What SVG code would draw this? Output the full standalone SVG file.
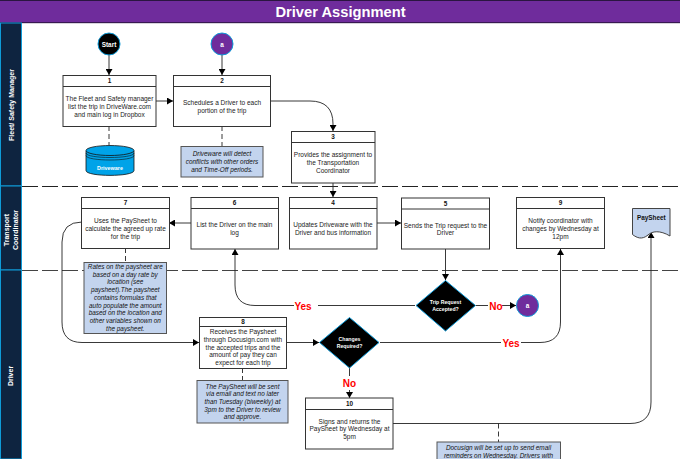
<svg xmlns="http://www.w3.org/2000/svg" width="680" height="459" viewBox="0 0 680 459">
<defs>
<marker id="arr" markerUnits="userSpaceOnUse" markerWidth="7" markerHeight="7" refX="6" refY="3.5" orient="auto"><path d="M0 0L6 3.5L0 7Z" fill="#000"/></marker>
</defs>
<style>
text{font-family:"Liberation Sans",Arial,sans-serif}
.box{fill:#fff;stroke:#333;stroke-width:1}
.t{font-size:6.5px;fill:#222;text-anchor:middle}
.n{font-size:6.4px;font-weight:bold;fill:#111;text-anchor:middle}
.note{fill:#c3d4ee;stroke:#555;stroke-width:1}
.nt{font-size:6.4px;font-style:italic;fill:#111;text-anchor:middle}
.lane{fill:#0e2440;stroke:#0e9bd8;stroke-width:1}
.lt{font-size:7px;font-weight:bold;fill:#fff;text-anchor:middle}
.c{fill:none;stroke:#222;stroke-width:.9}
.ca{fill:none;stroke:#222;stroke-width:.9;marker-end:url(#arr)}
.d{fill:none;stroke:#222;stroke-width:.9;stroke-dasharray:5 3}
.sw{fill:none;stroke-width:1;stroke-dasharray:16 4}
.yn{font-size:10px;font-weight:bold;fill:#f00;text-anchor:middle}
.dia{fill:#000;stroke:#0e9bd8;stroke-width:1}
.dt{font-size:5.2px;font-weight:bold;fill:#fff;text-anchor:middle}
</style>
<rect width="680" height="459" fill="#fff"/>
<g id="title"><rect x="0" y="0" width="680" height="23" fill="#6f2c9c"/><path d="M0 .5H680M0 22.700H680" stroke="#2a1540" stroke-width="1"/><text x="340.500" y="16.500" font-size="14.700" font-weight="bold" fill="#fff" text-anchor="middle">Driver Assignment</text></g>
<g id="lanes">
<rect class="lane" x=".5" y="23" width="21" height="163"/>
<rect class="lane" x=".5" y="186" width="21" height="84"/>
<rect class="lane" x=".5" y="270" width="21" height="189"/>
<text class="lt" transform="translate(13.500 105) rotate(-90)">Fleet/ Safety Manager</text>
<text class="lt" transform="translate(9 230) rotate(-90)">Transport</text>
<text class="lt" transform="translate(17.500 230) rotate(-90)">Coordinator</text>
<text class="lt" transform="translate(13 376) rotate(-90)">Driver</text>
<path class="sw" stroke="#222" d="M22 186.500H680"/>
<path class="sw" stroke="#444" d="M22 270.500H680"/>
</g>
<g id="connectors">
<path class="ca" d="M109 55V75"/>
<path class="ca" d="M222 55V75"/>
<path class="ca" d="M156 101H173"/>
<path class="ca" d="M270 101H310Q333 101 333 124V131"/>
<path class="ca" d="M333 183V197"/>
<path class="ca" d="M377 223H401"/>
<path class="ca" d="M445.500 249V280"/>
<path class="ca" d="M415 305.500H255Q235 305.500 235 285V249"/>
<path class="ca" d="M191 223H169"/>
<path class="ca" d="M81 222H82Q62 222 62 242V322Q62 342.500 82 342.500H199"/>
<path class="ca" d="M286.500 342.500H319"/>
<path class="ca" d="M380 342.500H540Q560.500 342.500 560.500 322V249"/>
<path class="ca" d="M349.500 368V398"/>
<path class="ca" d="M476 305.500H516"/>
<path class="ca" d="M393 423.500H630Q651 423.500 651 402V232"/>
<path class="d" d="M109 126V145"/>
<path class="d" d="M222 126V146"/>
<path class="d" d="M125.500 248V262"/>
<path class="d" d="M242.500 368V380"/>
<path class="d" d="M498.500 423.500V442"/>
</g>
<g id="labels">
<rect x="294" y="298" width="24" height="14" fill="#fff"/><text class="yn" x="303" y="309.500">Yes</text>
<rect x="488" y="298" width="14" height="14" fill="#fff"/><text class="yn" x="496" y="309.500">No</text>
<rect x="501" y="335" width="20" height="14" fill="#fff"/><text class="yn" x="511" y="346.500">Yes</text>
<rect x="342" y="376" width="15" height="14" fill="#fff"/><text class="yn" x="349.500" y="386.500">No</text>
</g>
<g id="start"><circle cx="109" cy="44" r="11" fill="#000" stroke="#0e9bd8"/><text x="109" y="46.500" font-size="6.400" font-weight="bold" fill="#fff" text-anchor="middle">Start</text></g>
<g id="a1"><circle cx="222" cy="44" r="11" fill="#6f2c9c" stroke="#0e9bd8"/><text x="222" y="46.500" font-size="6.400" font-weight="bold" fill="#fff" text-anchor="middle">a</text></g>
<g id="n1"><rect class="box" x="63" y="75.500" width="93" height="51"/><path class="box" d="M63 86.500H156"/><text class="n" x="109.500" y="83">1</text><text class="t" x="109.500" y="101">The Fleet and Safety manager</text><text class="t" x="109.500" y="108.800">list the trip in DriveWare.com</text><text class="t" x="109.500" y="116.600">and main log in Dropbox</text></g>
<g id="n2"><rect class="box" x="173.500" y="75.500" width="97" height="51"/><path class="box" d="M173.500 86.500H270.500"/><text class="n" x="222" y="83">2</text><text class="t" x="222" y="105">Schedules a Driver to each</text><text class="t" x="222" y="112.800">portion of the trip</text></g>
<g id="n3"><rect class="box" x="291.500" y="131.500" width="83.500" height="51.500"/><path class="box" d="M291.500 142.500H375"/><text class="n" x="333" y="139">3</text><text class="t" x="333" y="157">Provides the assignment to</text><text class="t" x="333" y="165">the Transportation</text><text class="t" x="333" y="172.800">Coordinator</text></g>
<g id="driveware"><path d="M86 151V170.500C86 177 134 177 134 170.500V151Z" fill="#00a3e8" stroke="#111" stroke-width=".8"/><ellipse cx="110" cy="150.500" rx="24" ry="5" fill="#00a3e8" stroke="#111" stroke-width=".8"/><path d="M86 153C86 159 134 159 134 153M86 155.500C86 161.500 134 161.500 134 155.500" fill="none" stroke="#111" stroke-width=".6"/><text x="110" y="169.500" font-size="5.400" font-weight="bold" fill="#fff" text-anchor="middle">Driveware</text></g>
<g id="note2"><rect class="note" x="181" y="146.500" width="82" height="30.500"/><text class="nt" x="222" y="156">Driveware will detect</text><text class="nt" x="222" y="163.700">conflicts with other orders</text><text class="nt" x="222" y="171.500">and Time-Off periods.</text></g>
<g id="n7"><rect class="box" x="81.500" y="197.500" width="88" height="51"/><path class="box" d="M81.500 208.500H169.500"/><text class="n" x="125.500" y="205">7</text><text class="t" x="125.500" y="223">Uses the PaySheet to</text><text class="t" x="125.500" y="230.800">calculate the agreed up rate</text><text class="t" x="125.500" y="238.600">for the trip</text></g>
<g id="n6"><rect class="box" x="191" y="197.500" width="87.500" height="51.500"/><path class="box" d="M191 208.500H278.500"/><text class="n" x="234.500" y="205">6</text><text class="t" x="234.500" y="227">List the Driver on the main</text><text class="t" x="234.500" y="234.800">log</text></g>
<g id="n4"><rect class="box" x="289.500" y="197.500" width="87.500" height="51.500"/><path class="box" d="M289.500 208.500H377"/><text class="n" x="333" y="205">4</text><text class="t" x="333" y="227">Updates Driveware with the</text><text class="t" x="333" y="234.800">Driver and bus information</text></g>
<g id="n5"><rect class="box" x="401.500" y="198" width="88" height="51"/><path class="box" d="M401.500 209H489.500"/><text class="n" x="445.500" y="206">5</text><text class="t" x="445.500" y="227.500">Sends the Trip request to the</text><text class="t" x="445.500" y="235.300">Driver</text></g>
<g id="n9"><rect class="box" x="516.500" y="197.500" width="88" height="51"/><path class="box" d="M516.500 208.500H604.500"/><text class="n" x="560.500" y="205">9</text><text class="t" x="560.500" y="223">Notify coordinator with</text><text class="t" x="560.500" y="230.800">changes by Wednesday at</text><text class="t" x="560.500" y="238.600">12pm</text></g>
<g id="paysheet"><path d="M632.500 208.500H670V236C660 230 652 231 648 235C642 240 637 238 632.500 234.500Z" fill="#c3d4ee" stroke="#444"/><text x="651.300" y="219.500" font-size="6.400" font-weight="bold" fill="#111" text-anchor="middle">PaySheet</text></g>
<g id="note7"><rect class="note" x="84" y="262.500" width="82.500" height="71"/><text class="nt" x="125.300" y="269">Rates on the paysheet are</text><text class="nt" x="125.300" y="276.700">based on a day rate by</text><text class="nt" x="125.300" y="284.400">location (see</text><text class="nt" x="125.300" y="292.100">paysheet).The paysheet</text><text class="nt" x="125.300" y="299.800">contains formulas that</text><text class="nt" x="125.300" y="307.500">auto populate the amount</text><text class="nt" x="125.300" y="315.200">based on the location and</text><text class="nt" x="125.300" y="322.900">other variables shown on</text><text class="nt" x="125.300" y="330.600">the paysheet.</text></g>
<g id="n8"><rect class="box" x="199.500" y="317.500" width="87" height="51"/><path class="box" d="M199.500 326.500H286.500"/><text class="n" x="243" y="324">8</text><text class="t" x="243" y="334">Receives the Paysheet</text><text class="t" x="243" y="341.800">through Docusign.com with</text><text class="t" x="243" y="349.600">the accepted trips and the</text><text class="t" x="243" y="357.400">amount of pay they can</text><text class="t" x="243" y="365.200">expect for each trip</text></g>
<g id="note8"><rect class="note" x="197" y="380.500" width="91" height="42.500"/><text class="nt" x="242.500" y="388.500">The PaySheet will be sent</text><text class="nt" x="242.500" y="396.200">via email and text no later</text><text class="nt" x="242.500" y="403.900">than Tuesday (biweekly) at</text><text class="nt" x="242.500" y="411.600">3pm to the Driver to review</text><text class="nt" x="242.500" y="419.300">and approve.</text></g>
<g id="trip"><path class="dia" d="M445.500 280.500L475.500 305.500L445.500 331L416 305.500Z"/><text class="dt" x="445.500" y="304">Trip Request</text><text class="dt" x="445.500" y="310.500">Accepted?</text></g>
<g id="a2"><circle cx="527.500" cy="305.500" r="11" fill="#6f2c9c" stroke="#0e9bd8"/><text x="527.500" y="308" font-size="6.400" font-weight="bold" fill="#fff" text-anchor="middle">a</text></g>
<g id="changes"><path class="dia" d="M349.500 317.500L379 342.500L349.500 368L319.500 342.500Z"/><text class="dt" x="349.500" y="341">Changes</text><text class="dt" x="349.500" y="347.500">Required?</text></g>
<g id="n10"><rect class="box" x="305.500" y="398" width="87.500" height="51"/><path class="box" d="M305.500 409.500H393"/><text class="n" x="349.500" y="406">10</text><text class="t" x="349.500" y="423.500">Signs and returns the</text><text class="t" x="349.500" y="431.300">PaySheet by Wednesday at</text><text class="t" x="349.500" y="439.100">5pm</text></g>
<g id="note10"><rect class="note" x="437" y="442" width="123.500" height="20"/><text class="nt" x="498.500" y="450">Docusign will be set up to send email</text><text class="nt" x="498.500" y="457.800">reminders on Wednesday.  Drivers with</text></g>
</svg>
